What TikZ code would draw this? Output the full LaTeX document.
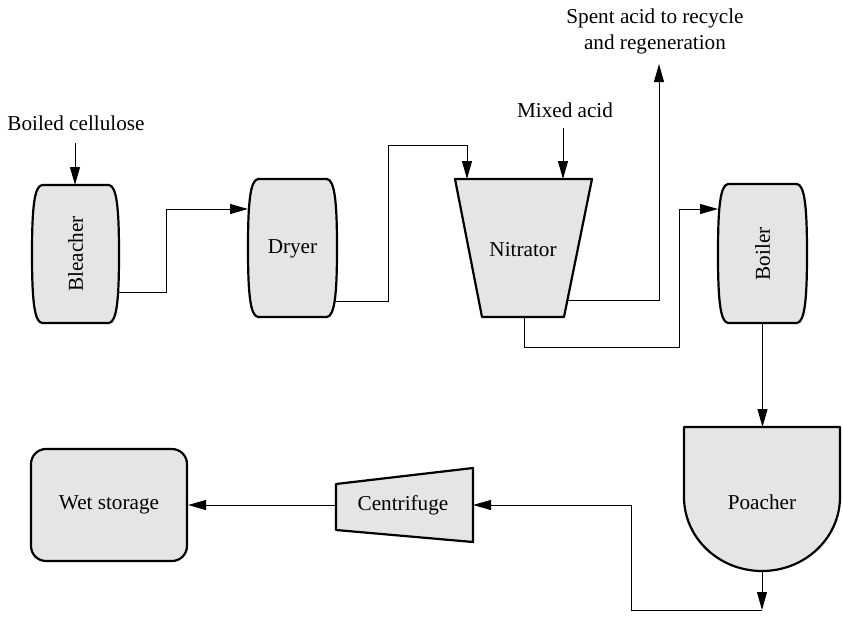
\documentclass[tikz,border=0pt]{standalone}
\usepackage{fontspec}
\setmainfont{Liberation Serif}
\usetikzlibrary{arrows.meta}
\definecolor{vesselGray}{HTML}{E5E5E5}

\tikzset{
  vessel/.style={draw=black, line width=1.1pt, fill=vesselGray, line join=round},
  pipe/.style={line width=0.5pt},
  flow/.style={pipe, -{Triangle[length=9pt,width=5pt]}},
  txt/.style={font=\fontsize{10.6}{13}\selectfont, inner sep=0pt, align=center}
}

% barrel vessel: left, top, right, bottom
\newcommand{\barrel}[4]{%
  \draw[vessel] (#1+10,#2) -- (#3-10,#2)
    .. controls (#3-2,#2+1) and (#3,#2+25) .. (#3,{(#2+#4)/2})
    .. controls (#3,#4-25) and (#3-2,#4-1) .. (#3-10,#4)
    -- (#1+10,#4)
    .. controls (#1+2,#4-1) and (#1,#4-25) .. (#1,{(#2+#4)/2})
    .. controls (#1,#2+25) and (#1+2,#2+1) .. cycle;}

\begin{document}
\begin{tikzpicture}[x=0.5pt, y=-0.5pt]
  \useasboundingbox (0,0) rectangle (843,617);

  % vessels
  \barrel{32}{185}{119}{323}
  \node[txt, rotate=90] (bleacher) at (75.5,254) {Bleacher};
  \barrel{248}{179}{337}{317}
  \node[txt] (dryer) at (292.5,249) {Dryer};
  \draw[vessel] (455,179) -- (592,179) -- (564,317) -- (482,317) -- cycle;
  \node[txt] (nitrator) at (523,250) {Nitrator};
  \barrel{718}{184}{807}{323}
  \node[txt, rotate=90] (boiler) at (762.5,254) {Boiler};
  \draw[vessel] (684,427) -- (840,427) -- (840,497)
    arc[start angle=0, end angle=180, x radius=78, y radius=74] -- cycle;
  \node[txt] (poacher) at (762,502) {Poacher};
  \draw[vessel] (336,484) -- (473,468) -- (473,542) -- (336,530) -- cycle;
  \node[txt] (centrifuge) at (403,505) {Centrifuge};
  \node[txt, vessel, rounded corners=7.5pt, minimum width=78pt, minimum height=56pt]
    (wet) at (109,505) {Wet storage};

  % streams
  \node[txt] (cellulose) at (76,123) {Boiled cellulose};
  \node[txt] (mixed) at (565,110) {Mixed acid};
  \node[txt] (spent) at (655,31) {Spent acid to recycle\\and regeneration};

  % ports
  \coordinate (bleacher-in) at (75,185);
  \coordinate (bleacher-out) at (118,292);
  \coordinate (dryer-in) at (248,209);
  \coordinate (dryer-out) at (336,301);
  \coordinate (nitrator-in1) at (467,179);
  \coordinate (nitrator-in2) at (563,179);
  \coordinate (nitrator-out1) at (568,300);
  \coordinate (nitrator-out2) at (524,317);
  \coordinate (spent-end) at (659,64);
  \coordinate (boiler-in) at (718,209);
  \coordinate (boiler-out) at (762.5,323);
  \coordinate (poacher-in) at (762.5,427);
  \coordinate (poacher-out) at (762,571);
  \coordinate (poacher-drain) at (762,610);
  \coordinate (centrifuge-in) at (473,505);
  \coordinate (centrifuge-out) at (336,505);

  % connectors
  \draw[flow, shorten <=6pt] (cellulose.south -| bleacher-in) -- (bleacher-in);
  \draw[flow] (bleacher-out) -- ++(48,0) |- (dryer-in);
  \draw[flow] (dryer-out) -- ++(52,0) -- ++(0,-156) -| (nitrator-in1);
  \draw[flow, shorten <=5pt] (mixed.south -| nitrator-in2) -- (nitrator-in2);
  \draw[flow] (nitrator-out1) -| (spent-end);
  \draw[flow] (nitrator-out2) -- ++(0,30) -| ++(155,-138) -- (boiler-in);
  \draw[flow] (boiler-out) -- (poacher-in);
  \draw[flow] (poacher-out) -- (poacher-drain);
  \draw[flow] (poacher-drain) -| ++(-131,-105) -- (centrifuge-in);
  \draw[flow] (centrifuge-out) -- (wet.east);
\end{tikzpicture}
\end{document}
